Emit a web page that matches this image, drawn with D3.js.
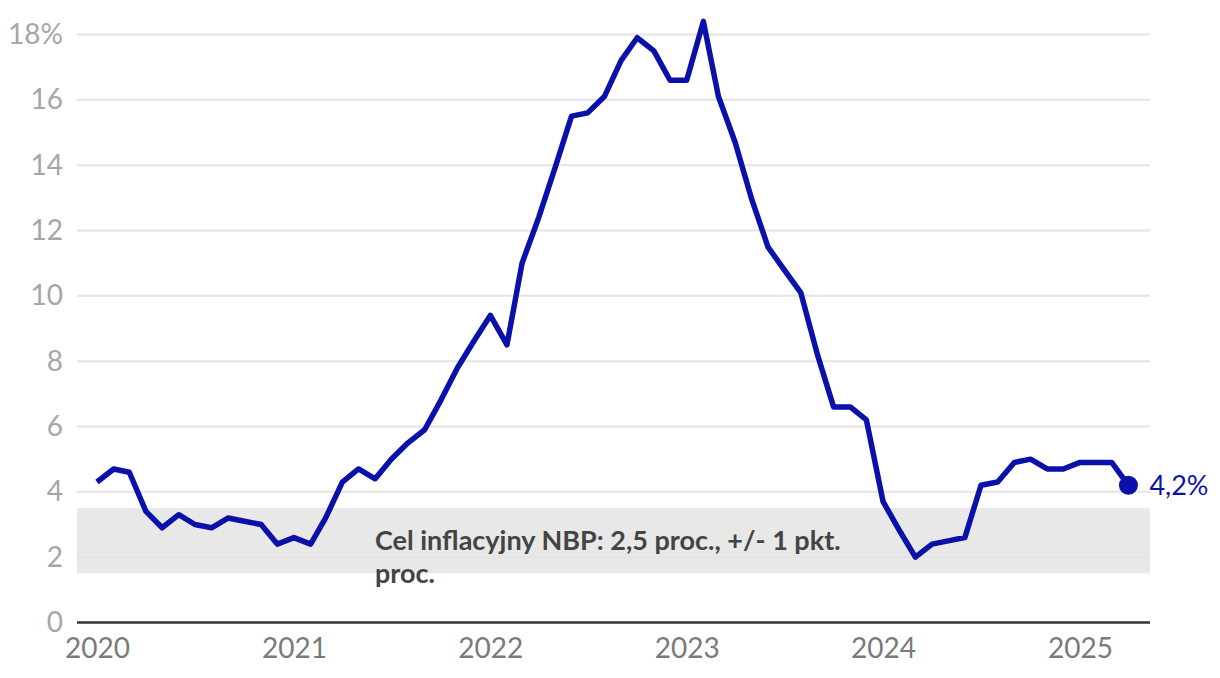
<!DOCTYPE html>
<html><head><meta charset="utf-8">
<script src="https://cdn.jsdelivr.net/npm/d3@7"></script>
<style>
html,body{margin:0;padding:0;background:#fff;}
svg{display:block;font-family:Lato,"Noto Sans",sans-serif;}
</style></head>
<body><svg id="c" width="1220" height="678"></svg>
<script>
const months = [
"2020-01","2020-02","2020-03","2020-04","2020-05","2020-06","2020-07","2020-08","2020-09","2020-10","2020-11","2020-12",
"2021-01","2021-02","2021-03","2021-04","2021-05","2021-06","2021-07","2021-08","2021-09","2021-10","2021-11","2021-12",
"2022-01","2022-02","2022-03","2022-04","2022-05","2022-06","2022-07","2022-08","2022-09","2022-10","2022-11","2022-12",
"2023-01","2023-02","2023-03","2023-04","2023-05","2023-06","2023-07","2023-08","2023-09","2023-10","2023-11","2023-12",
"2024-01","2024-02","2024-03","2024-04","2024-05","2024-06","2024-07","2024-08","2024-09","2024-10","2024-11","2024-12",
"2025-01","2025-02","2025-03","2025-04"];
const cpi = [
4.3,4.7,4.6,3.4,2.9,3.3,3.0,2.9,3.2,3.1,3.0,2.4,
2.6,2.4,3.2,4.3,4.7,4.4,5.0,5.5,5.9,6.8,7.8,8.6,
9.4,8.5,11.0,12.4,13.9,15.5,15.6,16.1,17.2,17.9,17.5,16.6,
16.6,18.4,16.1,14.7,13.0,11.5,10.8,10.1,8.2,6.6,6.6,6.2,
3.7,2.8,2.0,2.4,2.5,2.6,4.2,4.3,4.9,5.0,4.7,4.7,
4.9,4.9,4.9,4.2];
const yTicks = [0,2,4,6,8,10,12,14,16,18];
const xTickYears = ["2020","2021","2022","2023","2024","2025"];
const targetBand = [1.5,3.5];
const annotationLines = ["Cel inflacyjny NBP: 2,5 proc., +/- 1 pkt.","proc."];
const lastLabel = "4,2%";

const parse = d3.timeParse("%Y-%m");
const data = months.map((m,i)=>({date:parse(m), v:cpi[i]}));

const svg = d3.select("#c");
const left = 77, right = 1150;
const x = d3.scaleTime().domain([parse("2020-01"), parse("2025-01")]).range([97,1080]);
const y = d3.scaleLinear().domain([0,18]).range([622.5,34.5]);

// band
svg.append("rect").attr("x",left).attr("width",right-left)
  .attr("y",y(targetBand[1])).attr("height",y(targetBand[0])-y(targetBand[1]))
  .attr("fill","#e8e8e8");

// grid
svg.append("g").selectAll("line").data(yTicks.filter(d=>d>0)).join("line")
  .attr("x1",left).attr("x2",right).attr("y1",d=>y(d)).attr("y2",d=>y(d))
  .attr("stroke","#e4e4e4").attr("stroke-width",2);

// y axis labels
const yAxis = d3.axisLeft(y).tickValues(yTicks).tickSize(0).tickPadding(14)
  .tickFormat(d=>d===18? d+"%" : d);
const gy = svg.append("g").attr("transform",`translate(${left},0)`).call(yAxis);
gy.select(".domain").remove();
gy.selectAll("text").attr("font-size",28).attr("fill","#a6a6a6").attr("font-family","Lato");

// annotation
const ann = svg.append("text").attr("x",375).attr("y",550)
  .attr("font-size",27).attr("font-weight","bold").attr("fill","#444").attr("font-family","Lato");
annotationLines.forEach((t,i)=>ann.append("tspan").attr("x",375).attr("y",550+i*33).text(t));

// baseline
svg.append("line").attr("x1",left).attr("x2",right).attr("y1",y(0)).attr("y2",y(0))
  .attr("stroke","#333").attr("stroke-width",2.5);

// x axis
const xAxis = d3.axisBottom(x).tickValues(xTickYears.map(s=>d3.timeParse("%Y")(s)))
  .tickFormat(d3.timeFormat("%Y")).tickSize(0).tickPadding(16);
const gx = svg.append("g").attr("transform",`translate(0,${y(0)})`).call(xAxis);
gx.select(".domain").remove();
gx.selectAll("text").attr("font-size",28).attr("fill","#7a7a7a").attr("font-family","Lato");

// line
const line = d3.line().x(d=>x(d.date)).y(d=>y(d.v));
svg.append("path").datum(data).attr("d",line).attr("fill","none")
  .attr("stroke","#0a10aa").attr("stroke-width",5.5).attr("stroke-linejoin","round");

const last = data[data.length-1];
svg.append("circle").attr("cx",x(last.date)).attr("cy",y(last.v)).attr("r",9.5).attr("fill","#0a10aa");
svg.append("text").attr("x",x(last.date)+21).attr("y",y(last.v)).attr("dy","0.36em")
  .attr("font-size",27).attr("fill","#0a10aa").attr("font-family","Lato").text(lastLabel);
</script></body></html>
